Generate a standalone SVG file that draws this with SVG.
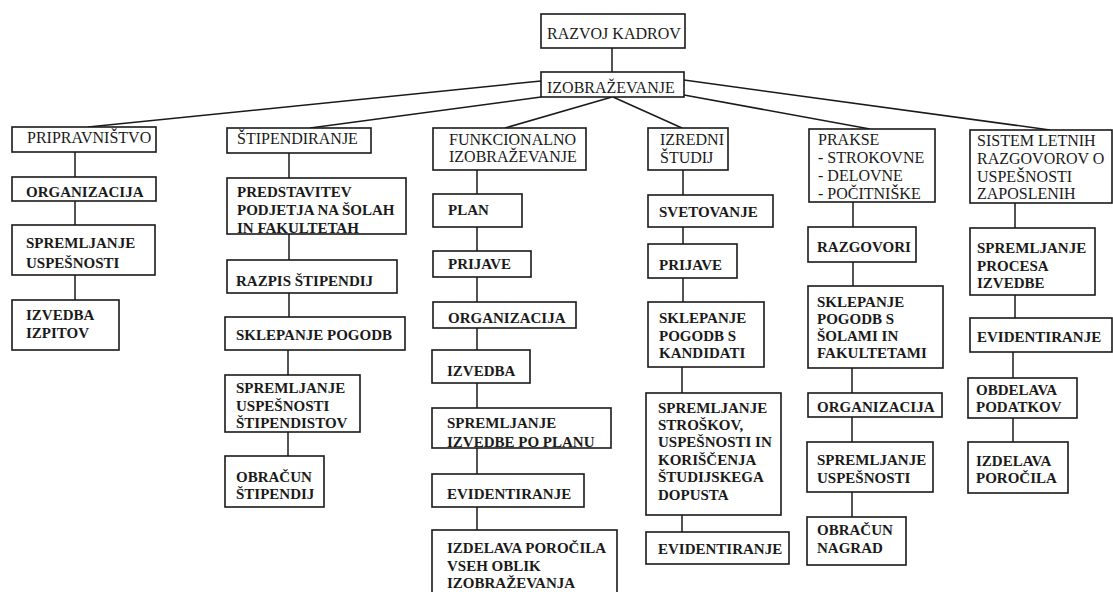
<svg xmlns="http://www.w3.org/2000/svg" width="1113" height="592" viewBox="0 0 1113 592">
<style>
rect{fill:#fff;stroke:#1a1a1a;stroke-width:1.6}
.c line{stroke:#1a1a1a;stroke-width:1.5}
text{fill:#1a1a1a}
.r{font-size:16px}
.b{font-size:15px;font-weight:bold}
</style>
<rect x="0" y="0" width="1113" height="592" style="fill:#fff;stroke:none"/>
<g class="c" id="connectors">
<line x1="612" y1="48" x2="612" y2="72"/>
<line x1="541" y1="81" x2="88" y2="127"/>
<line x1="541" y1="97" x2="310" y2="128"/>
<line x1="612" y1="97" x2="505" y2="128"/>
<line x1="613" y1="97" x2="682" y2="128"/>
<line x1="684" y1="95" x2="870" y2="129"/>
<line x1="684" y1="80" x2="1050" y2="130"/>
<line x1="75" y1="152" x2="75" y2="177"/>
<line x1="75" y1="201" x2="75" y2="225"/>
<line x1="75" y1="275" x2="75" y2="300"/>
<line x1="289" y1="153" x2="289" y2="178"/>
<line x1="289" y1="234" x2="289" y2="260"/>
<line x1="289" y1="293" x2="289" y2="317"/>
<line x1="288" y1="350" x2="288" y2="375"/>
<line x1="288" y1="432" x2="288" y2="456"/>
<line x1="477" y1="170" x2="477" y2="194"/>
<line x1="477" y1="227" x2="477" y2="251"/>
<line x1="477" y1="277" x2="477" y2="302"/>
<line x1="477" y1="328" x2="477" y2="350"/>
<line x1="477" y1="383" x2="477" y2="408"/>
<line x1="477" y1="448" x2="477" y2="474"/>
<line x1="477" y1="507" x2="477" y2="530"/>
<line x1="683" y1="170" x2="683" y2="195"/>
<line x1="683" y1="227" x2="683" y2="244"/>
<line x1="683" y1="278" x2="683" y2="302"/>
<line x1="682" y1="367" x2="682" y2="393"/>
<line x1="682" y1="515" x2="682" y2="532"/>
<line x1="853" y1="202" x2="853" y2="227"/>
<line x1="853" y1="262" x2="853" y2="286"/>
<line x1="852" y1="368" x2="852" y2="393"/>
<line x1="852" y1="417" x2="852" y2="442"/>
<line x1="852" y1="492" x2="852" y2="517"/>
<line x1="1015" y1="203" x2="1015" y2="228"/>
<line x1="1015" y1="295" x2="1015" y2="318"/>
<line x1="1013" y1="352" x2="1013" y2="378"/>
<line x1="1013" y1="418" x2="1013" y2="442"/>
</g>
<g font-family="'Liberation Serif', 'Times New Roman', 'DejaVu Serif', serif">
<g id="razvoj-kadrov"><rect x="541" y="14" width="144" height="34"/><text class="r" x="547" y="39">RAZVOJ KADROV</text></g>
<g id="izobrazevanje"><rect x="541" y="72" width="143" height="25"/><text class="r" x="547" y="93">IZOBRAŽEVANJE</text></g>

<g id="pripravnistvo"><rect x="12" y="127" width="144" height="25"/><text class="r" x="27" y="143">PRIPRAVNIŠTVO</text></g>
<g id="p-organizacija"><rect x="12" y="177" width="144" height="24"/><text class="b" x="26" y="197">ORGANIZACIJA</text></g>
<g id="p-spremljanje"><rect x="12" y="225" width="143" height="50"/><text class="b" x="26" y="248">SPREMLJANJE</text><text class="b" x="26" y="268">USPEŠNOSTI</text></g>
<g id="p-izvedba"><rect x="12" y="300" width="107" height="50"/><text class="b" x="26" y="320">IZVEDBA</text><text class="b" x="26" y="338">IZPITOV</text></g>

<g id="stipendiranje"><rect x="227" y="128" width="144" height="25"/><text class="r" x="237" y="144">ŠTIPENDIRANJE</text></g>
<g id="s-predstavitev"><rect x="227" y="178" width="179" height="56"/><text class="b" x="237" y="197">PREDSTAVITEV</text><text class="b" x="237" y="215">PODJETJA NA ŠOLAH</text><text class="b" x="237" y="233">IN FAKULTETAH</text></g>
<g id="s-razpis"><rect x="227" y="260" width="170" height="33"/><text class="b" x="236" y="286">RAZPIS ŠTIPENDIJ</text></g>
<g id="s-sklepanje"><rect x="225" y="317" width="180" height="33"/><text class="b" x="236" y="340">SKLEPANJE POGODB</text></g>
<g id="s-spremljanje"><rect x="225" y="375" width="135" height="57"/><text class="b" x="236" y="393">SPREMLJANJE</text><text class="b" x="236" y="411">USPEŠNOSTI</text><text class="b" x="236" y="428">ŠTIPENDISTOV</text></g>
<g id="s-obracun"><rect x="225" y="456" width="99" height="51"/><text class="b" x="236" y="482">OBRAČUN</text><text class="b" x="236" y="499">ŠTIPENDIJ</text></g>

<g id="funkcionalno"><rect x="433" y="128" width="153" height="42"/><text class="r" x="449" y="145">FUNKCIONALNO</text><text class="r" x="449" y="162">IZOBRAŽEVANJE</text></g>
<g id="f-plan"><rect x="433" y="194" width="89" height="33"/><text class="b" x="448" y="215">PLAN</text></g>
<g id="f-prijave"><rect x="433" y="251" width="98" height="26"/><text class="b" x="448" y="269">PRIJAVE</text></g>
<g id="f-organizacija"><rect x="433" y="302" width="143" height="26"/><text class="b" x="448" y="323">ORGANIZACIJA</text></g>
<g id="f-izvedba"><rect x="432" y="350" width="98" height="33"/><text class="b" x="447" y="376">IZVEDBA</text></g>
<g id="f-spremljanje"><rect x="432" y="408" width="179" height="40"/><text class="b" x="447" y="428">SPREMLJANJE</text><text class="b" x="447" y="447">IZVEDBE PO PLANU</text></g>
<g id="f-evidentiranje"><rect x="432" y="474" width="152" height="33"/><text class="b" x="447" y="499">EVIDENTIRANJE</text></g>
<g id="f-izdelava"><rect x="432" y="530" width="185" height="70"/><text class="b" x="447" y="553">IZDELAVA POROČILA</text><text class="b" x="447" y="571">VSEH OBLIK</text><text class="b" x="447" y="588">IZOBRAŽEVANJA</text></g>

<g id="izredni"><rect x="648" y="128" width="80" height="42"/><text class="r" x="660" y="145">IZREDNI</text><text class="r" x="660" y="163">ŠTUDIJ</text></g>
<g id="i-svetovanje"><rect x="648" y="195" width="125" height="32"/><text class="b" x="659" y="217">SVETOVANJE</text></g>
<g id="i-prijave"><rect x="648" y="244" width="89" height="34"/><text class="b" x="659" y="270">PRIJAVE</text></g>
<g id="i-sklepanje"><rect x="648" y="302" width="116" height="65"/><text class="b" x="659" y="323">SKLEPANJE</text><text class="b" x="659" y="341">POGODB S</text><text class="b" x="659" y="358">KANDIDATI</text></g>
<g id="i-spremljanje"><rect x="646" y="393" width="135" height="122"/><text class="b" x="658" y="413">SPREMLJANJE</text><text class="b" x="658" y="430">STROŠKOV,</text><text class="b" x="658" y="447">USPEŠNOSTI IN</text><text class="b" x="658" y="465">KORIŠČENJA</text><text class="b" x="658" y="482">ŠTUDIJSKEGA</text><text class="b" x="658" y="500">DOPUSTA</text></g>
<g id="i-evidentiranje"><rect x="646" y="532" width="143" height="32"/><text class="b" x="658" y="554">EVIDENTIRANJE</text></g>

<g id="prakse"><rect x="809" y="129" width="126" height="73"/><text class="r" x="818" y="145">PRAKSE</text><text class="r" x="818" y="163">- STROKOVNE</text><text class="r" x="818" y="181">- DELOVNE</text><text class="r" x="818" y="199">- POČITNIŠKE</text></g>
<g id="k-razgovori"><rect x="808" y="227" width="108" height="35"/><text class="b" x="817" y="252">RAZGOVORI</text></g>
<g id="k-sklepanje"><rect x="808" y="286" width="135" height="82"/><text class="b" x="817" y="307">SKLEPANJE</text><text class="b" x="817" y="324">POGODB S</text><text class="b" x="817" y="341">ŠOLAMI IN</text><text class="b" x="817" y="358">FAKULTETAMI</text></g>
<g id="k-organizacija"><rect x="808" y="393" width="134" height="24"/><text class="b" x="817" y="412">ORGANIZACIJA</text></g>
<g id="k-spremljanje"><rect x="807" y="442" width="126" height="50"/><text class="b" x="817" y="465">SPREMLJANJE</text><text class="b" x="817" y="483">USPEŠNOSTI</text></g>
<g id="k-obracun"><rect x="807" y="517" width="99" height="48"/><text class="b" x="817" y="535">OBRAČUN</text><text class="b" x="817" y="553">NAGRAD</text></g>

<g id="sistem"><rect x="970" y="130" width="142" height="73"/><text class="r" x="977" y="146">SISTEM LETNIH</text><text class="r" x="977" y="164">RAZGOVOROV O</text><text class="r" x="977" y="182">USPEŠNOSTI</text><text class="r" x="977" y="199">ZAPOSLENIH</text></g>
<g id="z-spremljanje"><rect x="970" y="228" width="125" height="67"/><text class="b" x="977" y="253">SPREMLJANJE</text><text class="b" x="977" y="271">PROCESA</text><text class="b" x="977" y="288">IZVEDBE</text></g>
<g id="z-evidentiranje"><rect x="970" y="318" width="142" height="34"/><text class="b" x="977" y="342">EVIDENTIRANJE</text></g>
<g id="z-obdelava"><rect x="968" y="378" width="109" height="40"/><text class="b" x="976" y="395">OBDELAVA</text><text class="b" x="976" y="412">PODATKOV</text></g>
<g id="z-izdelava"><rect x="968" y="442" width="100" height="51"/><text class="b" x="976" y="466">IZDELAVA</text><text class="b" x="976" y="483">POROČILA</text></g>
</g>
</svg>
